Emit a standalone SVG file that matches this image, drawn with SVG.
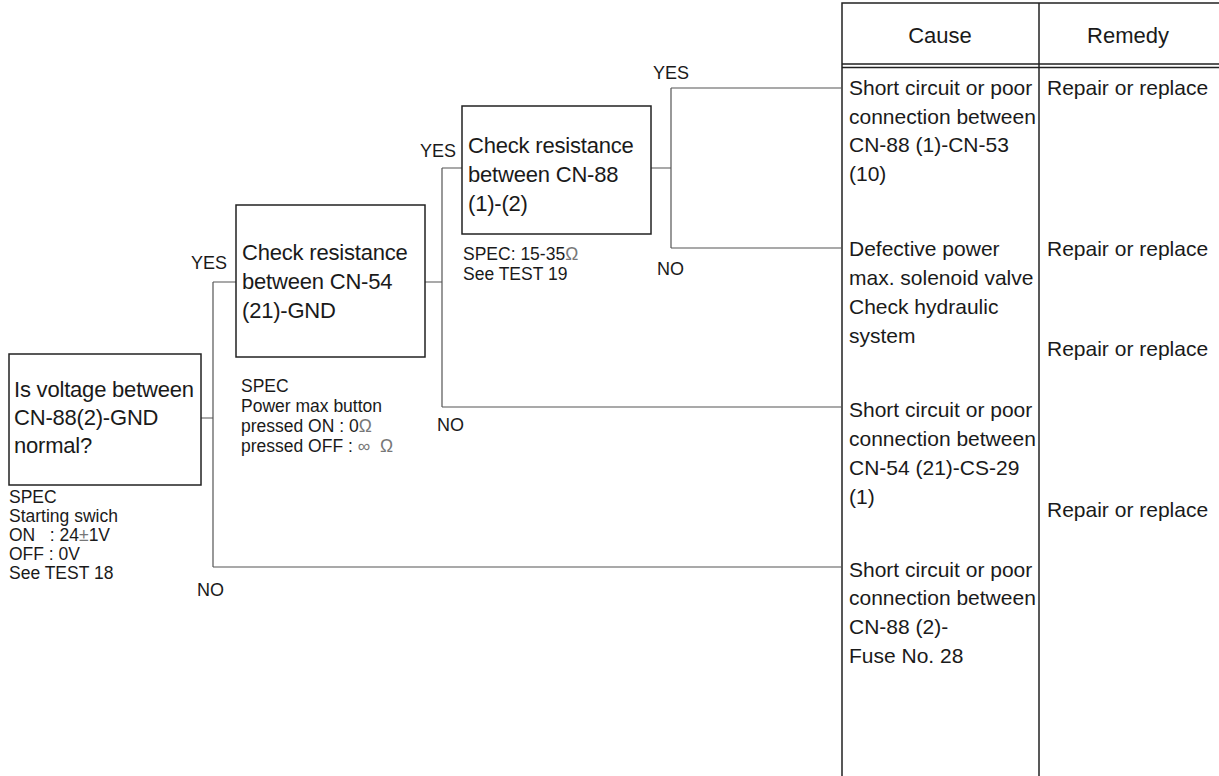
<svg xmlns="http://www.w3.org/2000/svg" width="1219" height="776" viewBox="0 0 1219 776">
<style>
text{font-family:"Liberation Sans",Arial,sans-serif;fill:#1a1a1a}
.bx{font-size:22px;letter-spacing:-0.2px}
.sp{font-size:17.5px}
.lb{font-size:18px}
.tc{font-size:21px}
.hd{font-size:22px;text-anchor:middle}
.sym{fill:#777}
.box{fill:none;stroke:#222;stroke-width:1.5}
.con{fill:none;stroke:#555;stroke-width:1.2}
.tbl{fill:none;stroke:#222;stroke-width:1.5}
</style>
<rect width="1219" height="776" fill="#fff"/>

<g id="table">
<path class="tbl" d="M842,776V3H1219" stroke-width="2"/>
<path class="tbl" d="M1039,3V776"/>
<path class="tbl" d="M842,64H1219M842,67.5H1219" stroke-width="1.2"/>
<text class="hd" x="940" y="43">Cause</text>
<text class="hd" x="1128" y="43">Remedy</text>
</g>

<g id="connectors">
<path class="con" d="M201,418H213M213,282V567M213,282H236M213,567H842"/>
<path class="con" d="M425,282H442M442,168V407M442,168H462M442,407H842"/>
<path class="con" d="M651,168H671M671,88V248M671,88H842M671,248H842"/>
<text class="lb" x="191" y="269">YES</text>
<text class="lb" x="197" y="596">NO</text>
<text class="lb" x="420" y="157">YES</text>
<text class="lb" x="437" y="431">NO</text>
<text class="lb" x="653" y="79">YES</text>
<text class="lb" x="657" y="275">NO</text>
</g>

<g id="node-voltage">
<rect class="box" x="9" y="354" width="192" height="131"/>
<text class="bx" x="14" y="397">Is voltage between</text>
<text class="bx" x="14" y="425">CN-88(2)-GND</text>
<text class="bx" x="14" y="453">normal?</text>
<text class="sp" x="9" y="503">SPEC</text>
<text class="sp" x="9" y="522">Starting swich</text>
<text class="sp" x="9" y="541">ON &#160;&#160;: 24<tspan class="sym">±</tspan>1V</text>
<text class="sp" x="9" y="560">OFF : 0V</text>
<text class="sp" x="9" y="579">See TEST 18</text>
</g>

<g id="node-cn54">
<rect class="box" x="236" y="205" width="189" height="152"/>
<text class="bx" x="242" y="260">Check resistance</text>
<text class="bx" x="242" y="289">between CN-54</text>
<text class="bx" x="242" y="318">(21)-GND</text>
<text class="sp" x="241" y="392">SPEC</text>
<text class="sp" x="241" y="412">Power max button</text>
<text class="sp" x="241" y="432">pressed ON : 0<tspan class="sym">Ω</tspan></text>
<text class="sp" x="241" y="452">pressed OFF : <tspan class="sym">∞ &#160;Ω</tspan></text>
</g>

<g id="node-cn88">
<rect class="box" x="462" y="106" width="189" height="128"/>
<text class="bx" x="468" y="153">Check resistance</text>
<text class="bx" x="468" y="182">between CN-88</text>
<text class="bx" x="468" y="211">(1)-(2)</text>
<text class="sp" x="463" y="260">SPEC: 15-35<tspan class="sym">Ω</tspan></text>
<text class="sp" x="463" y="280">See TEST 19</text>
</g>

<g id="cause-1">
<text class="tc" x="849" y="95">Short circuit or poor</text>
<text class="tc" x="849" y="124">connection between</text>
<text class="tc" x="849" y="152">CN-88 (1)-CN-53</text>
<text class="tc" x="849" y="181">(10)</text>
<text class="tc" x="1047" y="95">Repair or replace</text>
</g>
<g id="cause-2">
<text class="tc" x="849" y="256">Defective power</text>
<text class="tc" x="849" y="285">max. solenoid valve</text>
<text class="tc" x="849" y="314">Check hydraulic</text>
<text class="tc" x="849" y="343">system</text>
<text class="tc" x="1047" y="256">Repair or replace</text>
</g>
<g id="cause-3">
<text class="tc" x="849" y="417">Short circuit or poor</text>
<text class="tc" x="849" y="446">connection between</text>
<text class="tc" x="849" y="475">CN-54 (21)-CS-29</text>
<text class="tc" x="849" y="504">(1)</text>
<text class="tc" x="1047" y="356">Repair or replace</text>
</g>
<g id="cause-4">
<text class="tc" x="849" y="577">Short circuit or poor</text>
<text class="tc" x="849" y="605">connection between</text>
<text class="tc" x="849" y="634">CN-88 (2)-</text>
<text class="tc" x="849" y="663">Fuse No. 28</text>
<text class="tc" x="1047" y="517">Repair or replace</text>
</g>
</svg>
